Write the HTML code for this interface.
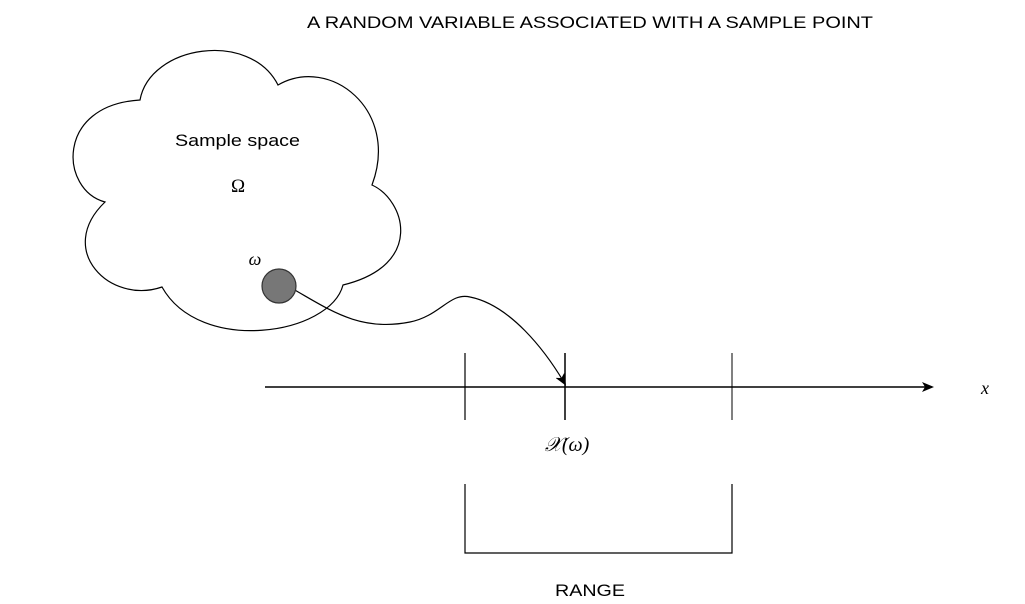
<!DOCTYPE html>
<html><head><meta charset="utf-8"><style>
html,body{margin:0;padding:0;background:#fff;}
svg{display:block;}
text{font-family:"Liberation Sans",sans-serif;fill:#000;}
.m{font-family:"Liberation Serif",serif;font-style:italic;}
</style></head><body>
<svg width="1025" height="604" viewBox="0 0 1025 604">
<defs><marker id="ah" markerWidth="12" markerHeight="10" refX="10" refY="5" orient="auto" markerUnits="userSpaceOnUse"><path d="M0,0 L12,5 L0,10 L3,5 Z" fill="#000"/></marker></defs>
<text x="307" y="28" font-size="17" textLength="566" lengthAdjust="spacingAndGlyphs">A RANDOM VARIABLE ASSOCIATED WITH A SAMPLE POINT</text>
<path d="M140,100 C150,45 250,30 278,85 C330,55 400,110 372,185 C405,200 425,265 343,285 C330,335 200,355 162,287 C110,305 55,250 105,202 C60,190 55,105 140,100 Z" fill="none" stroke="#000" stroke-width="1.2"/>
<text x="175" y="146" font-size="17" textLength="125" lengthAdjust="spacingAndGlyphs">Sample space</text>
<text x="238" y="192" text-anchor="middle" font-size="19" class="m" style="font-style:normal">Ω</text>
<text x="255" y="265" text-anchor="middle" font-size="18" class="m">ω</text>
<path d="M293,289 C330,310 360,332 410,322 C440,316 450,292 470,297 C510,305 545,350 565,384" fill="none" stroke="#000" stroke-width="1.2" marker-end="url(#ah)"/>
<circle cx="279" cy="286" r="17" fill="#777" stroke="#333" stroke-width="1.2"/>
<line x1="265" y1="387" x2="932" y2="387" stroke="#000" stroke-width="1.5" marker-end="url(#ah)"/>
<line x1="465" y1="353" x2="465" y2="420" stroke="#000" stroke-width="1.2"/>
<line x1="565" y1="353" x2="565" y2="420" stroke="#000" stroke-width="1.5"/>
<line x1="732" y1="353" x2="732" y2="420" stroke="#000" stroke-width="1"/>
<text x="985" y="394" text-anchor="middle" font-size="18" class="m">x</text>
<text x="567" y="451" text-anchor="middle" font-size="20" class="m">𝒳(ω)</text>
<path d="M465,484 L465,553 L732,553 L732,484" fill="none" stroke="#000" stroke-width="1.2"/>
<text x="555" y="596" font-size="17" textLength="70" lengthAdjust="spacingAndGlyphs">RANGE</text>
</svg>
</body></html>
